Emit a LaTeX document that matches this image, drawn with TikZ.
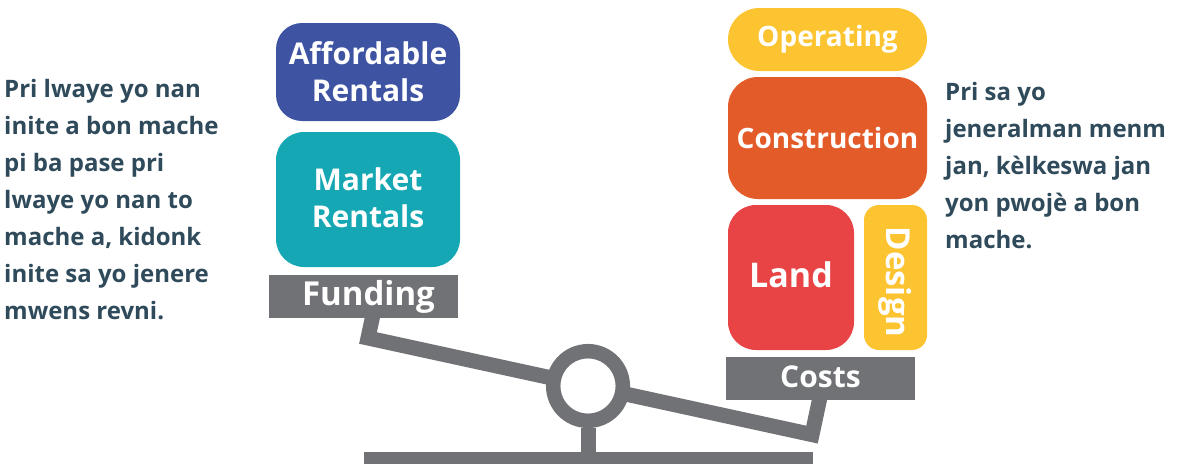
\documentclass[tikz,border=0pt]{standalone}
\usepackage{fontspec}
\setmainfont{Open Sans}
\definecolor{affblue}{HTML}{3E54A3}
\definecolor{markteal}{HTML}{16A7B4}
\definecolor{opyellow}{HTML}{FDC431}
\definecolor{conorange}{HTML}{E35B28}
\definecolor{landred}{HTML}{E84445}
\definecolor{scalegray}{HTML}{717275}
\definecolor{textdark}{HTML}{2F4A5A}
\begin{document}
\begin{tikzpicture}[x=1pt,y=-1pt,
  box/.style={rounded corners=26pt, minimum width=184pt, inner sep=0pt, text=white,
    font=\fontsize{30}{37}\selectfont\bfseries, align=center},
  bar/.style={fill=scalegray, inner sep=0pt, minimum width=189pt, minimum height=43pt,
    text=white, font=\fontsize{33}{40}\selectfont\bfseries},
  para/.style={anchor=base west, inner sep=0pt, text=textdark,
    font=\fontsize{24}{37}\selectfont\bfseries},
  beam/.style={draw=scalegray, line width=15pt, line join=miter}]
\useasboundingbox (0,0) rectangle (1179,464);

% scale beam and stand
\coordinate (lpost) at (374,310);
\coordinate (lend) at (368,338);
\coordinate (rend) at (812,434.6);
\coordinate (rpost) at (820.5,395);
\draw[beam] (lpost) -- (lend) -- (rend) -- (rpost);
\node[circle, draw=scalegray, line width=14.5pt, fill=white, minimum size=69.6pt, inner sep=0pt] (pivot) at (588,386) {};
\coordinate (foot) at (588,455);
\draw[draw=scalegray, line width=15pt] (pivot.south) -- (foot);
\fill[scalegray] (364,452) rectangle (813,464);

% funding side
\node[box, fill=affblue, minimum height=98pt] (aff) at (368,72) {Affordable\\Rentals};
\node[box, fill=markteal, minimum height=135pt, rounded corners=28pt] (mkt) at (368,199.5) {\raisebox{3pt}{Market}\\\raisebox{3pt}{Rentals}};
\node[bar] (fund) at (363.5,296.5) {\hspace*{10pt}\raisebox{-3pt}{Funding}};

% cost side
\node[box, fill=opyellow, minimum width=199pt, minimum height=63pt, rounded corners=31.5pt,
  font=\fontsize{28}{34}\selectfont\bfseries] (oper) at (827.5,39.5) {\raisebox{-3pt}{Operating}};
\node[box, fill=conorange, minimum width=199pt, minimum height=122pt, rounded corners=30pt,
  font=\fontsize{28}{34}\selectfont\bfseries] (cons) at (827.5,138) {\raisebox{1pt}{Construction}};
\node[box, fill=landred, minimum width=126pt, minimum height=145pt, rounded corners=28pt,
  font=\fontsize{34}{40}\selectfont\bfseries] (land) at (791,277.5) {\raisebox{5pt}{Land}};
\node[box, fill=opyellow, minimum width=145pt, minimum height=63pt, rounded corners=15pt, rotate=-90,
  font=\fontsize{33}{40}\selectfont\bfseries] (des) at (895.5,277.5) {\hspace*{9pt}Design};
\node[bar, font=\fontsize{30}{36}\selectfont\bfseries] (cost) at (820.5,378.5) {\raisebox{3pt}{Costs}};

% left paragraph
\node[para] (l1) at (4,97) {Pri lwaye yo nan};
\node[para] (l2) at (4,134) {inite a bon mache};
\node[para] (l3) at (4,171) {pi ba pase pri};
\node[para] (l4) at (4,208) {lwaye yo nan to};
\node[para] (l5) at (4,245) {mache a, kidonk};
\node[para] (l6) at (4,282) {inite sa yo jenere};
\node[para] (l7) at (4,319) {mwens revni.};

% right paragraph
\node[para] (r1) at (945,100) {Pri sa yo};
\node[para] (r2) at (945,137) {jeneralman menm};
\node[para] (r3) at (945,174) {jan, kèlkeswa jan};
\node[para] (r4) at (945,211) {yon pwojè a bon};
\node[para] (r5) at (945,248) {mache.};
\end{tikzpicture}
\end{document}
